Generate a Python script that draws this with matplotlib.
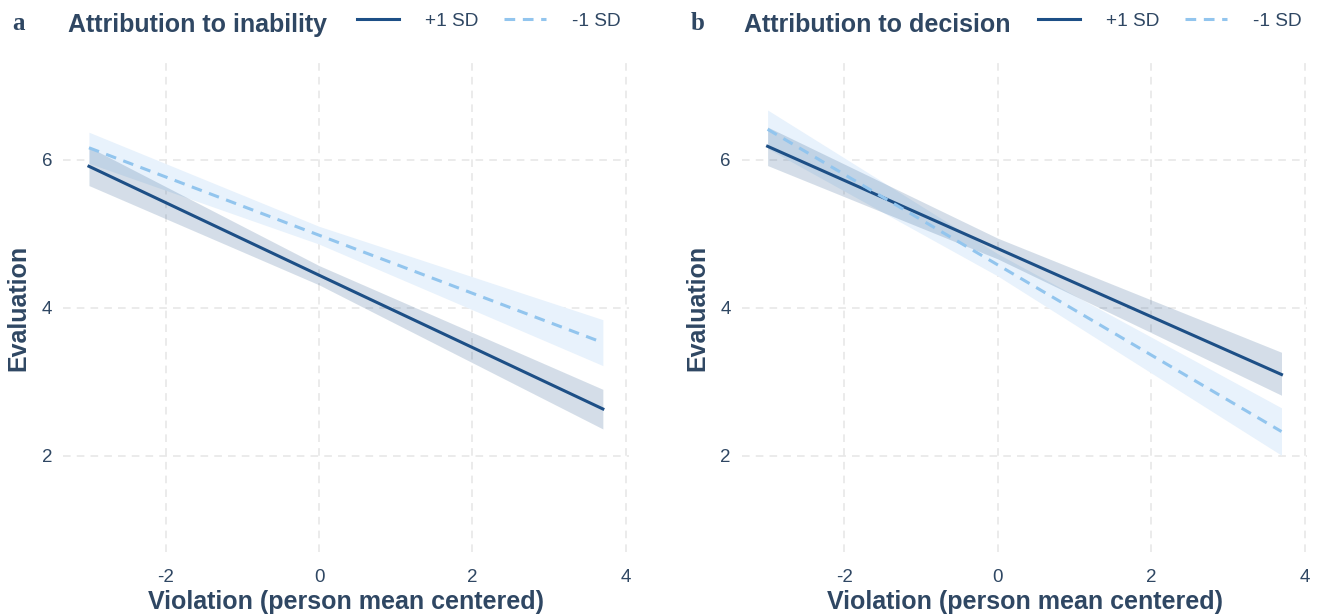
import numpy as np
import matplotlib.pyplot as plt

# predicted values (x = violation, person mean centered)
x = [-3.0, 0.0, 3.7]

# panel a: attribution to inability
a_hi_fit = [5.91, 4.44, 2.635]
a_hi_lo = [5.65, 4.31, 2.365]
a_hi_up = [6.17, 4.57, 2.90]
a_lo_fit = [6.16, 4.98, 3.53]
a_lo_lo = [5.95, 4.86, 3.22]
a_lo_up = [6.37, 5.10, 3.84]

# panel b: attribution to decision
b_hi_fit = [6.18, 4.80, 3.10]
b_hi_lo = [5.92, 4.66, 2.82]
b_hi_up = [6.44, 4.94, 3.40]
b_lo_fit = [6.41, 4.58, 2.33]
b_lo_lo = [6.15, 4.43, 2.01]
b_lo_up = [6.67, 4.73, 2.65]

panels = [
    ("a", "Attribution to inability", a_hi_fit, a_hi_lo, a_hi_up, a_lo_fit, a_lo_lo, a_lo_up),
    ("b", "Attribution to decision", b_hi_fit, b_hi_lo, b_hi_up, b_lo_fit, b_lo_lo, b_lo_up),
]

dark = "#1d4f86"
light = "#92c5ee"
txt = "#2f4763"
grid_c = "#e6e6e6"

plt.rcParams['font.family'] = ['Liberation Sans', 'DejaVu Sans']
plt.rcParams['axes.unicode_minus'] = False

fig = plt.figure(figsize=(13.18, 6.16), dpi=100)
lefts = [0.048, 0.5629]
title_x = [0.0515, 0.5645]
leg_x = [0.2709, 0.7876]

for i, (tag, title, hf, hl, hu, lf, ll, lu) in enumerate(panels):
    ax = fig.add_axes([lefts[i], 0.1034, 0.4289, 0.7938])
    ax.fill_between(x, ll, lu, color="#e8f2fc", lw=0, zorder=1)
    ax.fill_between(x, hl, hu, color=dark, alpha=0.19, lw=0, zorder=2)
    ax.plot(x, hf, color=dark, lw=2.2, label="+1 SD", zorder=3)
    ax.plot(x, lf, color=light, lw=2.2, ls=(0, (3.5, 2.5)), label="-1 SD", zorder=3)

    ax.set_xlim(-3.335, 4.035)
    ax.set_ylim(0.7, 7.3)
    ax.set_xticks([-2, 0, 2, 4])
    ax.set_yticks([2, 4, 6])
    ax.grid(True, color=grid_c, ls=(0, (5, 4)), lw=1.1)
    ax.set_axisbelow(True)
    for s in ax.spines.values():
        s.set_visible(False)
    ax.tick_params(length=0, labelsize=13.5, colors=txt)
    ax.tick_params(axis='x', pad=12)
    ax.tick_params(axis='y', pad=8)
    ax.set_xlabel("Violation (person mean centered)", fontsize=18, fontweight="bold", color=txt, labelpad=3)
    ax.set_ylabel("Evaluation", fontsize=18, fontweight="bold", color=txt, labelpad=8)

    # panel tag, title and legend across the top
    fig.text(lefts[i] - 0.039, 0.962, tag, fontsize=18, fontweight="bold",
             family="Liberation Serif", color=txt, va="center")
    fig.text(title_x[i], 0.96, title, fontsize=18, fontweight="bold", color=txt, va="center")
    ax.legend(ncol=2, loc="center left", bbox_to_anchor=(leg_x[i], 0.966), bbox_transform=fig.transFigure,
              frameon=False, fontsize=13.7, handlelength=2.2, handletextpad=1.37, columnspacing=1.37,
              borderaxespad=0, borderpad=0, labelcolor=txt)

fig.savefig("out.png", dpi=100)
